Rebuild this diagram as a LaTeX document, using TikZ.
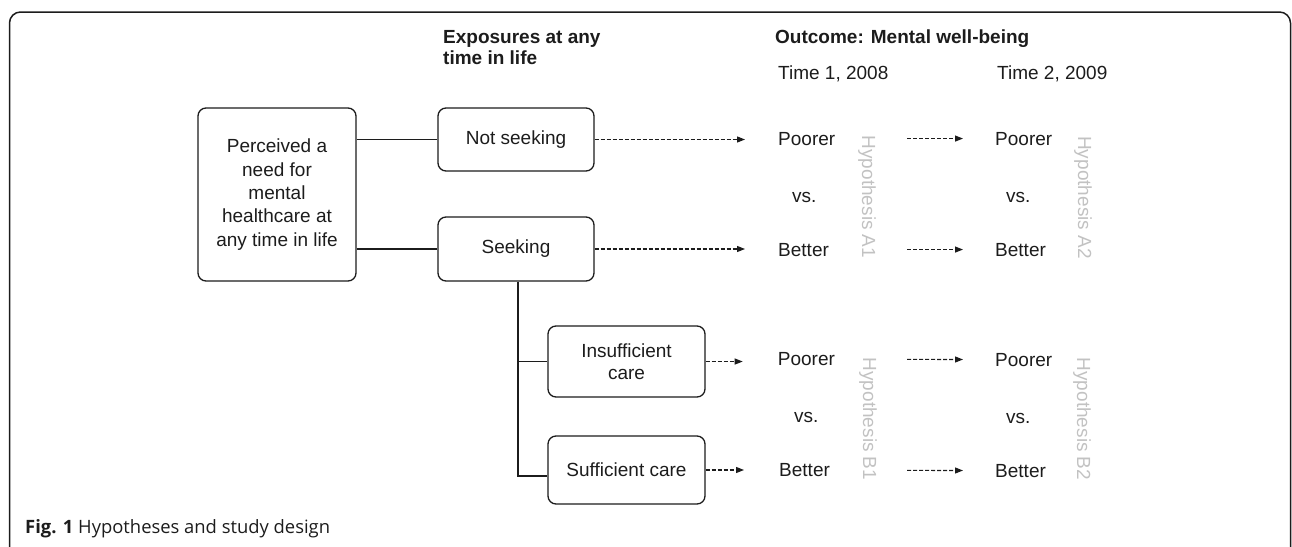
\documentclass[tikz,border=0pt]{standalone}
\usepackage{fontspec}
\setmainfont{Liberation Sans}
\newfontfamily\capfont{Open Sans}
\usetikzlibrary{arrows.meta}
\definecolor{ink}{HTML}{1C1C1C}
\definecolor{hypgrey}{HTML}{C2C2C2}
\begin{document}
\begin{tikzpicture}[x=1pt,y=-1pt,
  stepbox/.style={draw=ink, line width=1.3pt, rounded corners=8pt, align=center,
    inner sep=0pt, text=ink, font=\fontsize{19}{22.5}\selectfont},
  lbl/.style={anchor=base west, inner sep=0pt, text=ink, font=\fontsize{19}{22.5}\selectfont},
  head/.style={lbl, font=\bfseries\fontsize{19}{21.5}\selectfont},
  hyp/.style={rotate=-90, inner sep=0pt, text=hypgrey, font=\fontsize{19}{22}\selectfont},
  link/.style={draw=ink, line width=1.2pt},
  darr/.style={draw=ink, line width=1.1pt, dash pattern=on 4pt off 2pt,
    -{Triangle[length=8pt,width=6pt]}}
]
\useasboundingbox (0,0) rectangle (1292,546);
\clip (0,0) rectangle (1292,546);

% outer frame, open towards the bottom edge
\draw[draw=ink, line width=1.5pt, rounded corners=11pt] (9.5,12) rectangle (1290.5,580);

% column headings
\node[head] (expo1) at (443,43) {Exposures at any};
\node[head] (expo2) at (443,64.5) {time in life};
\node[head] (outc) at (775,43.3) {Outcome: Mental well-being};
\node[lbl] (t1) at (778,79) {Time 1, 2008};
\node[lbl] (t2) at (997,79) {Time 2, 2009};

% exposure boxes
\node[stepbox, minimum width=158pt, minimum height=173pt,
  font=\fontsize{19}{23.3}\selectfont] (need) at (277,194.5)
  {Perceived a\\need for\\mental\\healthcare at\\any time in life};
\node[stepbox, minimum width=156pt, minimum height=63pt] (notseek) at (516,139.5) {Not seeking};
\node[stepbox, minimum width=156pt, minimum height=64pt] (seek) at (516,249) {Seeking};
\node[stepbox, minimum width=157pt, minimum height=71pt] (insuff) at (626.5,361.5) {Insufficient\\care};
\node[stepbox, minimum width=157pt, minimum height=68pt] (suff) at (626.5,470) {Sufficient care};

% tree connectors
\draw[link] (need.east |- notseek.west) -- (notseek.west);
\draw[link] (need.east |- seek.west) -- (seek.west);
\draw[link] ([xshift=2pt]seek.south) |- ([yshift=-6pt]suff.west);
\draw[link] ([xshift=2pt]seek.south |- insuff.west) -- (insuff.west);

% outcomes at time 1
\node[lbl] (pa1) at (778,145) {Poorer};
\node[lbl] (va1) at (792,202) {vs.};
\node[lbl] (ba1) at (778,256) {Better};
\node[lbl] (pb1) at (777.7,365.7) {Poorer};
\node[lbl] (vb1) at (794,422.7) {vs.};
\node[lbl] (bb1) at (779,476.7) {Better};

% outcomes at time 2
\node[lbl] (pa2) at (995,145) {Poorer};
\node[lbl] (va2) at (1006,202) {vs.};
\node[lbl] (ba2) at (995,256) {Better};
\node[lbl] (pb2) at (995,366) {Poorer};
\node[lbl] (vb2) at (1006,423) {vs.};
\node[lbl] (bb2) at (995,477) {Better};

% hypothesis labels
\node[hyp] (ha1) at (867,197) {Hypothesis A1};
\node[hyp] (ha2) at (1083,197.5) {Hypothesis A2};
\node[hyp] (hb1) at (868,419) {Hypothesis B1};
\node[hyp] (hb2) at (1082,419) {Hypothesis B2};

% exposure -> time 1
\draw[darr, shorten >=33pt] (notseek.east) -- (notseek.east -| pa1.west);
\draw[darr, shorten >=33pt] (seek.east) -- (seek.east -| ba1.west);
\draw[darr, shorten >=35pt] (insuff.east) -- (insuff.east -| pb1.west);
\draw[darr, shorten >=35pt] (suff.east) -- (suff.east -| bb1.west);

% time 1 -> time 2
\draw[darr, shorten <=72pt, shorten >=32pt] (pa1.east) -- (pa2.west);
\draw[darr, shorten <=78pt, shorten >=32pt] (ba1.east) -- (ba2.west);
\draw[darr, shorten <=72pt, shorten >=32pt] (pb1.east) -- (pb2.west);
\draw[darr, shorten <=77pt, shorten >=32pt] (bb1.east) -- (bb2.west);

% caption
\node[anchor=base west, inner sep=0pt, text=ink, font=\capfont\fontsize{18.4}{20}\selectfont]
  (caption) at (25,533.5) {\textbf{Fig. 1} Hypotheses and study design};
\end{tikzpicture}
\end{document}
